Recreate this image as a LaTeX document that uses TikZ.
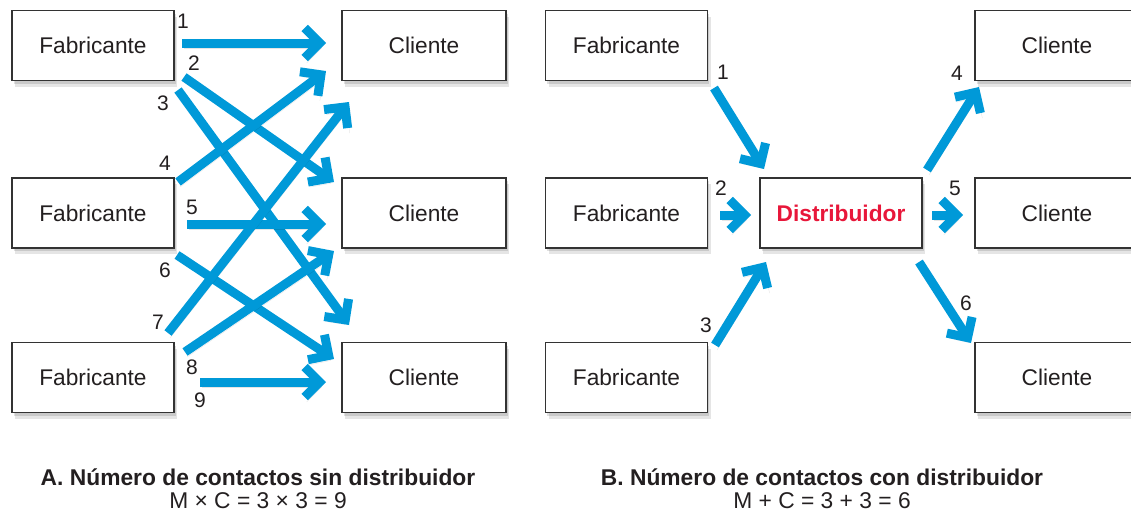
\documentclass[tikz,border=0pt]{standalone}
\usepackage{fontspec}
\setmainfont{Liberation Sans}
\usetikzlibrary{arrows.meta,shadows}
\definecolor{arrowblue}{RGB}{0,153,216}
\definecolor{txt}{RGB}{35,31,32}
\definecolor{distred}{RGB}{232,23,58}
\begin{document}
\begin{tikzpicture}[x=1pt,y=-1pt,
  box/.style={draw=black!80, line width=1.2pt, fill=white, minimum width=162pt, minimum height=70pt,
    inner sep=0pt, font=\fontsize{22.7}{26}\selectfont, text=txt,
    drop shadow={shadow xshift=3pt, shadow yshift=-6pt, opacity=0.10, fill=black},
    drop shadow={shadow xshift=1.5pt, shadow yshift=-3pt, opacity=0.12, fill=black}},
  flow/.style={draw=arrowblue, line width=9pt,
    -{Straight Barb[length=15pt,width=30pt]},
    preaction={draw=black, opacity=0.10, transform canvas={shift={(2pt,-5pt)}}}},
  num/.style={font=\fontsize{21}{24}\selectfont, text=txt, inner sep=0pt},
  captext/.style={font=\fontsize{22.8}{24}\selectfont, text=txt, inner sep=0pt, align=center}
]
\useasboundingbox (0,0) rectangle (1131,514);
% ---------- Panel A ----------
\node[box] (fa1) at (93,45.5) {Fabricante};
\node[box] (fa2) at (93,213) {Fabricante};
\node[box] (fa3) at (93,377.5) {Fabricante};
\node[box, minimum width=164pt] (ca1) at (424,45.5) {Cliente};
\node[box, minimum width=164pt] (ca2) at (424,213) {Cliente};
\node[box, minimum width=164pt] (ca3) at (424,377.5) {Cliente};

\coordinate (s1) at (182,43);  \coordinate (e1) at (326,43);
\coordinate (s2) at (184,77);  \coordinate (e2) at (334,182);
\coordinate (s3) at (178,90);  \coordinate (e3) at (349,325);
\coordinate (s4) at (178,182); \coordinate (e4) at (326,71);
\coordinate (s5) at (187,224); \coordinate (e5) at (326,224);
\coordinate (s6) at (177,255); \coordinate (e6) at (334,359);
\coordinate (s7) at (168,333); \coordinate (e7) at (349,102);
\coordinate (s8) at (185,352); \coordinate (e8) at (334,251);
\coordinate (s9) at (200,382); \coordinate (e9) at (326,382);
\foreach \i in {1,...,9} { \draw[flow] (s\i) -- (e\i); }

\node[num] (n1) at (183,21) {1};
\node[num] (n2) at (194,63) {2};
\node[num] (n3) at (163,103) {3};
\node[num] (n4) at (165,163) {4};
\node[num] (n5) at (192,207) {5};
\node[num] (n6) at (165,270) {6};
\node[num] (n7) at (158,322) {7};
\node[num] (n8) at (192,367) {8};
\node[num] (n9) at (200,400) {9};

% ---------- Panel B ----------
\node[box] (fb1) at (626.5,45.5) {Fabricante};
\node[box] (fb2) at (626.5,213) {Fabricante};
\node[box] (fb3) at (626.5,377.5) {Fabricante};
\node[box, text=distred, font=\fontsize{22.7}{26}\selectfont\bfseries] (dist) at (841,213) {Distribuidor};
\node[box, minimum width=164pt] (cb1) at (1057,45.5) {Cliente};
\node[box, minimum width=164pt] (cb2) at (1057,213) {Cliente};
\node[box, minimum width=164pt] (cb3) at (1057,377.5) {Cliente};

\coordinate (t1) at (714,88);  \coordinate (u1) at (764,169);
\coordinate (t2) at (720,215); \coordinate (u2) at (751,215);
\coordinate (t3) at (715,345); \coordinate (u3) at (766,262);
\coordinate (t4) at (927,170); \coordinate (u4) at (979,87);
\coordinate (t5) at (932,215); \coordinate (u5) at (963,215);
\coordinate (t6) at (919,262); \coordinate (u6) at (971,343);
\foreach \i in {1,...,6} { \draw[flow] (t\i) -- (u\i); }

\node[num] (m1) at (723,72) {1};
\node[num] (m2) at (721,188) {2};
\node[num] (m3) at (706,325) {3};
\node[num] (m4) at (957,73) {4};
\node[num] (m5) at (955,188) {5};
\node[num] (m6) at (966,303) {6};

% ---------- Captions ----------
\node[captext] (capA) at (258,489) {\textbf{A. Número de contactos sin distribuidor}\\[-1pt] M × C = 3 × 3 = 9};
\node[captext] (capB) at (822,489) {\textbf{B. Número de contactos con distribuidor}\\[-1pt] M + C = 3 + 3 = 6};
\end{tikzpicture}
\end{document}
